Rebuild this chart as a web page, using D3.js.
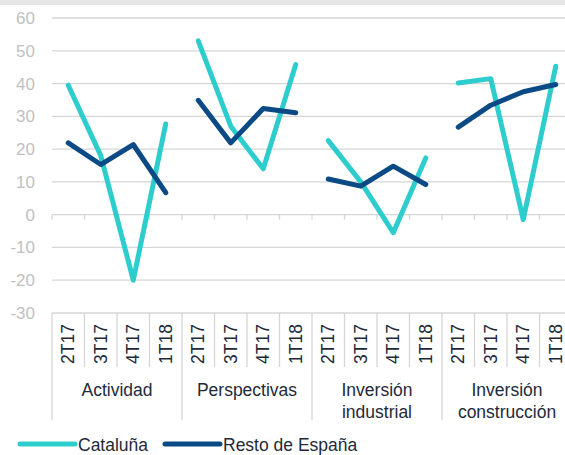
<!DOCTYPE html>
<html><head><meta charset="utf-8">
<script src="https://cdn.jsdelivr.net/npm/d3@7"></script>
<style>html,body{margin:0;padding:0;background:#fff;}svg{display:block;}</style>
</head><body>
<svg id="c" width="565" height="455"></svg>
<script>
const groups = ["Actividad", "Perspectivas", "Inversión industrial", "Inversión construcción"];
const quarters = ["2T17", "3T17", "4T17", "1T18"];
const cataluna = [
  [39.5, 18, -20, 27.7],
  [53, 27, 14, 45.8],
  [22.6, 10, -5.5, 17.3],
  [40.2, 41.5, -1.5, 45.3]
];
const resto = [
  [21.9, 15.3, 21.4, 6.7],
  [34.9, 21.9, 32.4, 31.1],
  [10.9, 8.7, 14.8, 9.2],
  [26.7, 33.4, 37.5, 39.7]
];
const yTicks = [-30, -20, -10, 0, 10, 20, 30, 40, 50, 60];
const seriesNames = ["Cataluña", "Resto de España"];
const colors = ["#2ecdcd", "#0b4a85"];

const svg = d3.select("#c");
const font = "Liberation Sans, Arial, sans-serif";
const textColor = "#1e2a3a";

svg.append("rect").attr("x",0).attr("y",0).attr("width",565).attr("height",5).attr("fill","#e6e6e6");

const keys = [];
groups.forEach((g,gi)=>quarters.forEach((q,qi)=>keys.push(gi+"_"+qi)));
const x = d3.scaleBand().domain(keys).range([52, 572]).paddingInner(0).paddingOuter(0);
const y = d3.scaleLinear().domain([-30, 60]).range([313, 18]);
const bw = x.bandwidth();

// gridlines
svg.append("g").selectAll("line").data(yTicks).join("line")
  .attr("x1", 52).attr("x2", 572)
  .attr("y1", d=>y(d)).attr("y2", d=>y(d))
  .attr("stroke", "#d6d6d6").attr("stroke-width", 1.3);

// y labels
svg.append("g").selectAll("text").data(yTicks).join("text")
  .attr("x", 35).attr("y", d=>y(d)).attr("dy","0.35em")
  .attr("text-anchor","end").attr("font-family",font).attr("font-size",17)
  .attr("fill","#bfbfbf").text(d=>d);

// ticks at zero line
const bounds = d3.range(0, keys.length+1).map(i=>52 + i*bw);
svg.append("g").selectAll("line").data(bounds).join("line")
  .attr("x1",d=>d).attr("x2",d=>d).attr("y1",y(0)).attr("y2",y(0)+5)
  .attr("stroke","#d6d6d6").attr("stroke-width",1.3);

// category separators below axis
svg.append("g").selectAll("line").data(bounds).join("line")
  .attr("x1",d=>d).attr("x2",d=>d).attr("y1",y(-30))
  .attr("y2",(d,i)=> i%4===0 ? 420 : 367)
  .attr("stroke","#d6d6d6").attr("stroke-width",1.3);

// quarter labels
const ql = svg.append("g");
keys.forEach((k,i)=>{
  const cx = x(k) + bw/2;
  ql.append("text")
    .attr("transform",`translate(${cx+6},344) rotate(-90)`)
    .attr("text-anchor","middle").attr("font-family",font).attr("font-size",17.5)
    .attr("fill",textColor).text(quarters[i%4]);
});

// group labels
const gl = svg.append("g");
groups.forEach((g,gi)=>{
  const cx = x(gi+"_0") + 2*bw;
  const parts = g.split(" ");
  if (parts.length === 1) {
    gl.append("text").attr("x",cx).attr("y",396).attr("text-anchor","middle")
      .attr("font-family",font).attr("font-size",17.5).attr("fill",textColor).text(g);
  } else {
    parts.forEach((p,pi)=>{
      gl.append("text").attr("x",cx).attr("y",396 + pi*22).attr("text-anchor","middle")
        .attr("font-family",font).attr("font-size",17.5).attr("fill",textColor).text(p);
    });
  }
});

// lines
const line = d3.line().x(d=>d.x).y(d=>y(d.v));
[cataluna, resto].forEach((series, si)=>{
  series.forEach((vals, gi)=>{
    const pts = vals.map((v,qi)=>({x: x(gi+"_"+qi)+bw/2, v}));
    svg.append("path").attr("d", line(pts)).attr("fill","none")
      .attr("stroke", colors[si]).attr("stroke-width", 5)
      .attr("stroke-linejoin","round").attr("stroke-linecap","round");
  });
});

// legend
const leg = [{x1:20,x2:75,tx:78},{x1:165,x2:220,tx:223}];
seriesNames.forEach((n,i)=>{
  svg.append("line").attr("x1",leg[i].x1).attr("x2",leg[i].x2).attr("y1",444).attr("y2",444)
    .attr("stroke",colors[i]).attr("stroke-width",5).attr("stroke-linecap","round");
  svg.append("text").attr("x",leg[i].tx).attr("y",451).attr("font-family",font).attr("font-size",17.5)
    .attr("fill",textColor).text(n);
});
</script>
</body></html>
